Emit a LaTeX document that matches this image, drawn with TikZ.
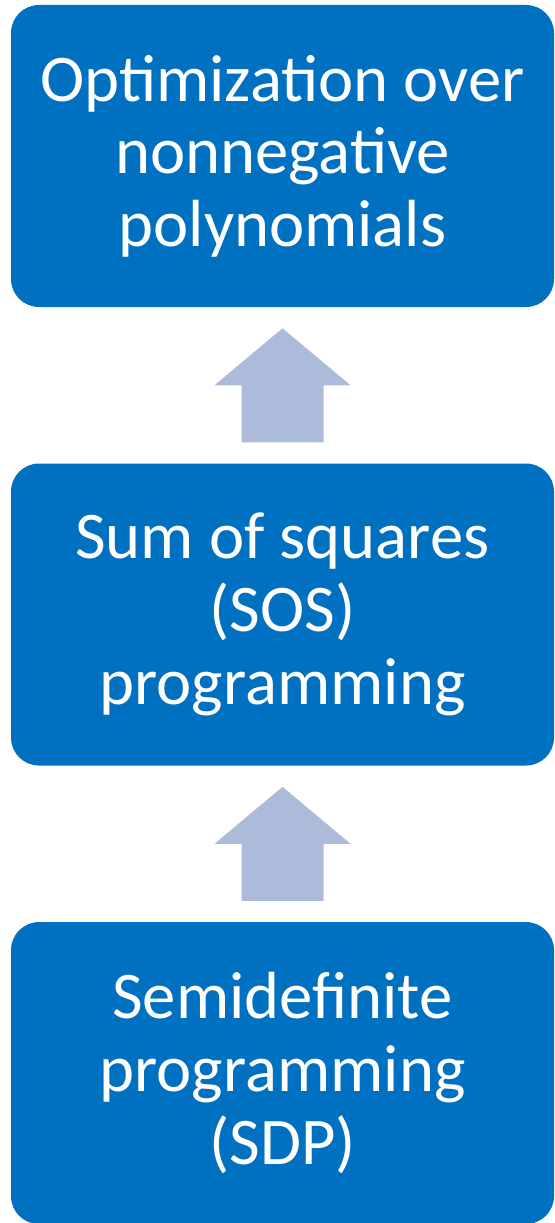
\documentclass[tikz,border=0pt]{standalone}
\usepackage{fontspec}
\setmainfont{Carlito}
\usetikzlibrary{positioning,calc}
\definecolor{boxblue}{HTML}{0070C0}
\definecolor{arrowblue}{RGB}{173,187,219}

\begin{document}
\begin{tikzpicture}[
	main/.style={rectangle, rounded corners=21pt, fill=boxblue, text=white, align=center,
		minimum width=407.25pt, minimum height=226.5pt, inner sep=0pt,
		font=\fontsize{50}{54.5}\selectfont},
	uparrow/.style={fill=arrowblue},
	node distance=117pt
	]
	\useasboundingbox (0,0) rectangle (416.25pt,-917.25pt);

	\node (opt) [main] at (211.875pt,-117pt) {Optimization over\\nonnegative\\polynomials};
	\node (sos) [main, below=of opt] {Sum of squares\\(SOS)\\programming};
	\node (sdp) [main, below=of sos] {Semidefinite\\programming\\(SDP)};

	\foreach \lo/\hi in {sdp/sos, sos/opt}
		\fill [uparrow] ($(\lo.north)+(-30.75pt,15.75pt)$) -- ++(0,42.75pt) -- ++(-20.25pt,0)
			-- ($(\hi.south)+(0,-15.75pt)$)
			-- ($(\lo.north)+(51pt,58.5pt)$) -- ++(-20.25pt,0)
			-- ($(\lo.north)+(30.75pt,15.75pt)$) -- cycle;

\end{tikzpicture}
\end{document}
